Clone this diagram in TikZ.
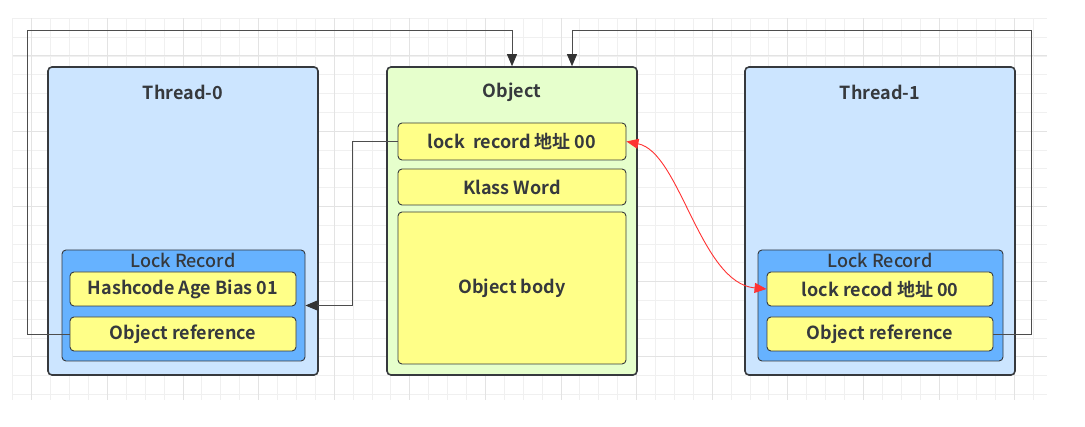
\documentclass[tikz,border=0pt]{standalone}
\usepackage{fontspec}
\setmainfont{Noto Sans CJK SC}[BoldFont={Noto Sans CJK SC Bold}]
\newfontfamily\medfont{Noto Sans CJK SC Medium}
\usetikzlibrary{arrows.meta}

\definecolor{threadblue}{HTML}{CCE5FF}
\definecolor{recblue}{HTML}{66B2FF}
\definecolor{fieldyel}{HTML}{FFFF88}
\definecolor{objgreen}{HTML}{E6FFCC}
\definecolor{edgegray}{HTML}{36393D}
\definecolor{linegray}{HTML}{4D4D4D}
\definecolor{tipgray}{HTML}{333333}
\definecolor{gridminor}{HTML}{F0F0F0}
\definecolor{gridmajor}{HTML}{E3E3E3}
\definecolor{redline}{HTML}{FF3333}

\tikzset{
  outerbox/.style={draw=edgegray, line width=1.6pt, rounded corners=4pt, inner sep=0pt},
  recbox/.style={draw=edgegray, fill=recblue, line width=0.9pt, rounded corners=4pt, inner sep=0pt},
  field/.style={draw=edgegray, fill=fieldyel, line width=0.9pt, rounded corners=4pt, inner sep=0pt,
    minimum width=226pt, minimum height=34pt, font=\bfseries\fontsize{18}{21}\selectfont, text=edgegray},
  title/.style={font=\bfseries\fontsize{18}{21}\selectfont, text=edgegray, inner sep=0pt},
  rectitle/.style={font=\medfont\fontsize{18}{21}\selectfont, text=edgegray, inner sep=0pt},
  link/.style={draw=linegray, line width=0.9pt, -{Triangle[length=12pt,width=10pt,color=tipgray]}},
  redlink/.style={draw=redline, line width=0.9pt,
    {Triangle[length=12pt,width=10pt]}-{Triangle[length=12pt,width=10pt]}}
}

\begin{document}
\begin{tikzpicture}[x=1pt, y=-1pt]
\useasboundingbox (0,0) rectangle (1085,427);
\fill[white] (0,0) rectangle (1085,427);

% background grid
\foreach \i in {0,...,54}
  \draw[gridminor, line width=0.7pt] ({12.8+18.9*\i},18.3) -- ({12.8+18.9*\i},400);
\foreach \i in {0,...,20}
  \draw[gridminor, line width=0.7pt] (12.8,{18.3+18.8*\i}) -- (1047,{18.3+18.8*\i});
\foreach \i in {0,...,13}
  \draw[gridmajor, line width=0.8pt] ({31.7+75.6*\i},18.3) -- ({31.7+75.6*\i},400);
\foreach \i in {0,...,4}
  \draw[gridmajor, line width=0.8pt] (12.8,{55.9+75.2*\i}) -- (1047,{55.9+75.2*\i});

% Thread-0
\node[outerbox, fill=threadblue, minimum width=270pt, minimum height=308pt] (t0) at (183,221) {};
\node[title] (t0title) at (183,92) {Thread-0};
\node[recbox, minimum width=243pt, minimum height=111pt] (lr0) at (183.5,305.5) {};
\node[rectitle] (lr0title) at (183,260) {Lock Record};
\node[field] (hash0) at (183,289) {Hashcode Age Bias 01};
\node[field] (ref0) at (183,334) {Object reference};

% Object
\node[outerbox, fill=objgreen, minimum width=250pt, minimum height=308pt] (obj) at (512,221) {};
\node[title] (objtitle) at (512,92) {Object};
\node[field, minimum width=228pt, minimum height=37pt] (mark) at (512,141.5) {lock\ \ record 地址 00};
\node[field, minimum width=228pt, minimum height=36pt] (klass) at (512,187) {Klass Word};
\node[field, minimum width=228pt, minimum height=152pt] (body) at (512,288) {Object body};

% Thread-1
\node[outerbox, fill=threadblue, minimum width=270pt, minimum height=308pt] (t1) at (880,221) {};
\node[title] (t1title) at (880,92) {Thread-1};
\node[recbox, minimum width=245pt, minimum height=111pt] (lr1) at (880.5,305.5) {};
\node[rectitle] (lr1title) at (880,260) {Lock Record};
\node[field] (mark1) at (880,289) {lock recod 地址 00};
\node[field] (ref1) at (880,334) {Object reference};

% references
\draw[link] (ref0.west) -- (27,334) -- (27,30) -| (obj.north);
\draw[link] (ref1.east) -- (1031,334) -- (1031,30) -| ([xshift=60pt]obj.north);
\draw[link] (mark.west) -- (352,141.5) |- (lr0.east);
\draw[redlink] (mark.east) .. controls (680,152) and (700,283) .. (mark1.west);
\end{tikzpicture}
\end{document}
